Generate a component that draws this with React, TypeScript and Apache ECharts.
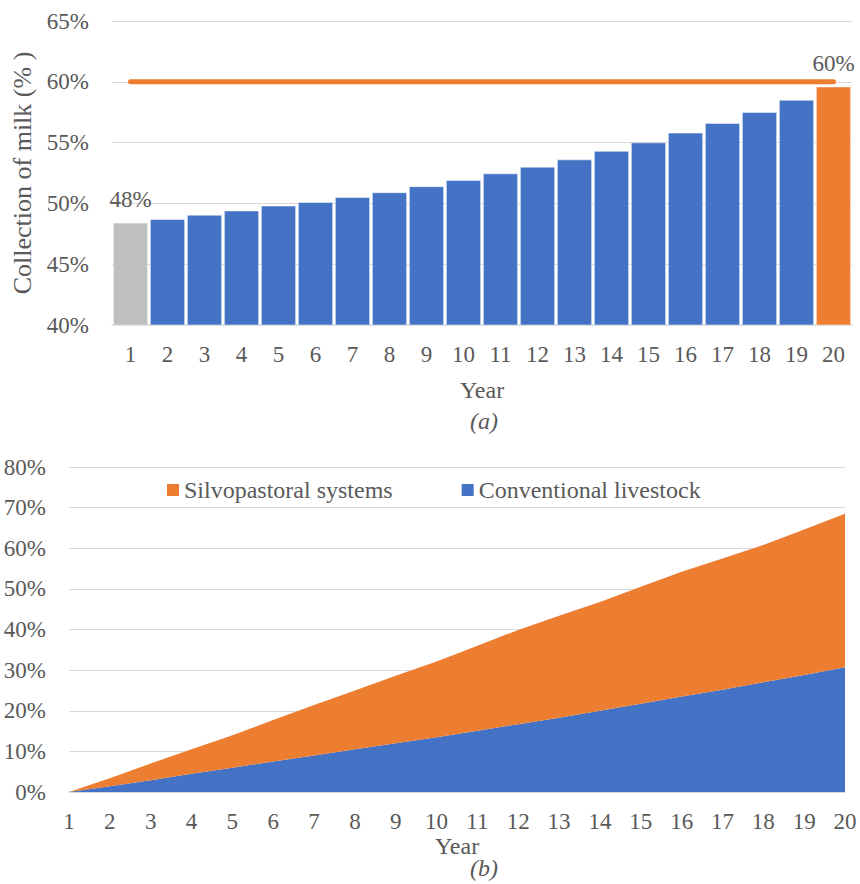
import React, { useEffect, useRef } from "react";
import * as echarts from "echarts";

const years = ["1", "2", "3", "4", "5", "6", "7", "8", "9", "10", "11", "12", "13", "14", "15", "16", "17", "18", "19", "20"];
const milkCollection = [48.4, 48.7, 49.05, 49.4, 49.8, 50.1, 50.5, 50.9, 51.4, 51.9, 52.45, 53.0, 53.6, 54.3, 55.0, 55.8, 56.6, 57.5, 58.5, 59.6];
const targetLine = [60, 60, 60, 60, 60, 60, 60, 60, 60, 60, 60, 60, 60, 60, 60, 60, 60, 60, 60, 60];
const conventional = [0, 1.4, 2.9, 4.5, 6.0, 7.5, 9.0, 10.5, 12.0, 13.5, 15.1, 16.7, 18.3, 20.0, 21.7, 23.5, 25.2, 27.0, 28.8, 30.7];
const silvopastoral = [0, 2.0, 4.1, 6.0, 8.0, 10.2, 12.4, 14.5, 16.6, 18.6, 20.9, 23.2, 25.1, 26.8, 28.8, 30.7, 32.3, 33.8, 35.8, 37.8];

const BLUE = "#4472C4";
const ORANGE = "#ED7D31";
const GREY = "#BFBFBF";
const TXT = "#595959";
const FONT = "'Liberation Serif', 'Times New Roman', serif";

export default function App() {
  const ref = useRef<HTMLDivElement>(null);
  useEffect(() => {
    if (!ref.current) return;
    const chart = echarts.init(ref.current, null, { renderer: "svg" });
    const barData = milkCollection.map((v, i) => {
      const color = i === 0 ? GREY : i === milkCollection.length - 1 ? ORANGE : BLUE;
      const item: any = { value: v, itemStyle: { color } };
      if (i === 0) {
        item.label = {
          show: true,
          position: "top",
          distance: 12,
          formatter: "48%",
          color: TXT,
          fontFamily: FONT,
          fontSize: 23,
        };
      }
      return item;
    });
    const lineData = targetLine.map((v, i) => {
      const item: any = { value: v };
      if (i === targetLine.length - 1) {
        item.label = {
          show: true,
          position: "top",
          distance: 6,
          formatter: "60%",
          color: TXT,
          fontFamily: FONT,
          fontSize: 23,
        };
      }
      return item;
    });
    const axisLabel = { color: TXT, fontFamily: FONT, fontSize: 23 };
    chart.setOption({
      animation: false,
      textStyle: { fontFamily: FONT },
      grid: [
        { left: 112, right: 8, top: 21, height: 304 },
        { left: 69, right: 15, top: 467, height: 325 },
      ],
      legend: {
        data: ["Silvopastoral systems", "Conventional livestock"],
        left: 167,
        top: 478,
        padding: 0,
        itemWidth: 12,
        itemHeight: 12,
        itemGap: 69,
        icon: "rect",
        textStyle: { color: TXT, fontFamily: FONT, fontSize: 24 },
      },
      xAxis: [
        {
          type: "category",
          gridIndex: 0,
          data: years,
          axisLine: { lineStyle: { color: "#D9D9D9", width: 1.5 } },
          axisTick: { show: false },
          axisLabel: { ...axisLabel, margin: 18 },
          name: "Year",
          nameLocation: "middle",
          nameGap: 53,
          nameTextStyle: { color: TXT, fontFamily: FONT, fontSize: 24 },
        },
        {
          type: "category",
          gridIndex: 1,
          data: years,
          boundaryGap: false,
          axisLine: { lineStyle: { color: "#D9D9D9", width: 1.5 } },
          axisTick: { show: false },
          axisLabel: { ...axisLabel, margin: 18 },
          name: "Year",
          nameLocation: "middle",
          nameGap: 35,
          nameTextStyle: { color: TXT, fontFamily: FONT, fontSize: 24 },
        },
      ],
      yAxis: [
        {
          type: "value",
          gridIndex: 0,
          min: 40,
          max: 65,
          interval: 5,
          axisLine: { show: false },
          axisTick: { show: false },
          splitLine: { lineStyle: { color: "#D9D9D9", width: 1 } },
          axisLabel: { ...axisLabel, margin: 23, formatter: "{value}%" },
          name: "Collection of milk (% )",
          nameLocation: "middle",
          nameGap: 70,
          nameTextStyle: { color: TXT, fontFamily: FONT, fontSize: 26 },
        },
        {
          type: "value",
          gridIndex: 1,
          min: 0,
          max: 80,
          interval: 10,
          axisLine: { show: false },
          axisTick: { show: false },
          splitLine: { lineStyle: { color: "#D9D9D9", width: 1 } },
          axisLabel: { ...axisLabel, margin: 23, formatter: "{value}%" },
        },
      ],
      series: [
        {
          type: "bar",
          name: "Collection",
          xAxisIndex: 0,
          yAxisIndex: 0,
          data: barData,
          barCategoryGap: "6%",
          itemStyle: { borderColor: "#ffffff", borderWidth: 0.5 },
        },
        {
          type: "line",
          name: "Target",
          xAxisIndex: 0,
          yAxisIndex: 0,
          data: lineData,
          symbol: "circle",
          symbolSize: 1,
          itemStyle: { color: ORANGE },
          lineStyle: { color: ORANGE, width: 5, cap: "round" },
        },
        {
          type: "line",
          name: "Conventional livestock",
          xAxisIndex: 1,
          yAxisIndex: 1,
          stack: "total",
          data: conventional,
          symbol: "none",
          itemStyle: { color: BLUE },
          lineStyle: { width: 0 },
          areaStyle: { color: BLUE, opacity: 1 },
        },
        {
          type: "line",
          name: "Silvopastoral systems",
          xAxisIndex: 1,
          yAxisIndex: 1,
          stack: "total",
          data: silvopastoral,
          symbol: "none",
          itemStyle: { color: ORANGE },
          lineStyle: { width: 0 },
          areaStyle: { color: ORANGE, opacity: 1 },
        },
      ],
      graphic: [
        {
          type: "text",
          left: 470,
          top: 409,
          style: { text: "(a)", fill: TXT, font: `italic 24px 'Liberation Serif', serif` },
        },
        {
          type: "text",
          left: 470,
          top: 856,
          style: { text: "(b)", fill: TXT, font: `italic 24px 'Liberation Serif', serif` },
        },
      ],
    });
    return () => chart.dispose();
  }, []);
  return (
    <div
      ref={ref}
      style={{ position: "fixed", left: 0, top: 0, width: 860, height: 884, background: "#fff" }}
    />
  );
}
